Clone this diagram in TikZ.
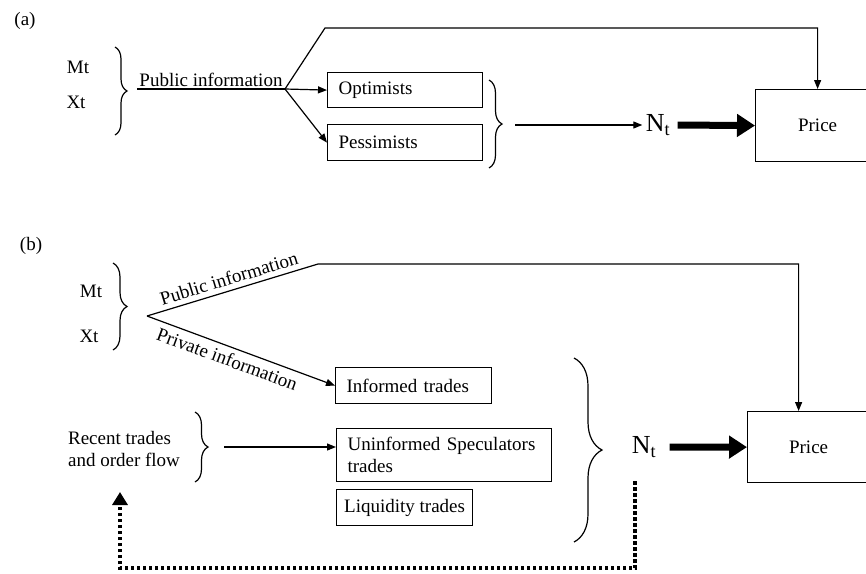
\documentclass[tikz,border=0pt]{standalone}
\usepackage{fontspec}
\setmainfont{Liberation Serif}
\usetikzlibrary{arrows.meta,decorations.pathreplacing}

\begin{document}
\begin{tikzpicture}[x=1pt,y=-1pt,>={Triangle[length=9pt,width=7pt]},
	every node/.style={font=\fontsize{19}{22}\selectfont},
	line/.style={line width=1.2pt},
	box/.style={draw,line width=1.2pt,anchor=north west,align=left,inner xsep=11pt,inner ysep=0pt},
	pricebox/.style={draw,line width=1.2pt,anchor=north west,minimum height=#1},
	curly/.style={line width=1.2pt,decorate,decoration={brace,amplitude=#1}},
	curly/.default=12pt,
	bigtext/.style={font=\fontsize{26}{30}\selectfont},
	fat/.style={line width=7pt,-{Triangle[length=18pt,width=22pt]}},
	feedback/.style={line width=3.5pt,dash pattern=on 3.5pt off 2.5pt,-{Triangle[length=13pt,width=15pt]}}]
	\useasboundingbox (0,0) rectangle (866,573);

	% Panel (a): nodes
	\node (lblA) at (25,21) {(a)};
	\node (mtA) at (78,67) {Mt};
	\node (xtA) at (76,102) {Xt};
	\node[box,text width=133pt,minimum height=35pt] (opt) at (327,72) {Optimists};
	\node[box,text width=133pt,minimum height=36pt] (pes) at (327,124) {Pessimists};
	\node[bigtext] (ntA) at (658,125) {N\textsubscript{t}};
	\node[pricebox=72pt,minimum width=124pt] (priceA) at (755,89) {Price};

	% Panel (a): points
	\coordinate (piA) at (137,89);
	\coordinate (brA) at (285,89);
	\coordinate (topA) at (325,28);
	\coordinate (sumA) at (515,125);

	% Panel (a): braces
	\draw[curly] (115,47) -- (115,135);
	\draw[curly=13pt] (489,80) -- (489,168);

	% Panel (a): lines
	\draw[line] (piA) -- node[above,inner sep=2pt] {Public information} (brA);
	\draw[->,line] (brA) -- (topA) -| (priceA.north);
	\draw[->,line] (brA) -- (opt.west);
	\draw[->,line] (brA) -- (pes.west);
	\draw[->,line] (sumA) -- (ntA);
	\draw[fat] ([xshift=4pt]ntA.east) -- (priceA.west);

	% Panel (b): nodes
	\node (lblB) at (31,246) {(b)};
	\node (mtB) at (91,291) {Mt};
	\node (xtB) at (89,336) {Xt};
	\node[align=left] (recent) at (124,449) {Recent trades\\and order flow};
	\node[box,text width=134pt,minimum height=36pt] (inf) at (335,367) {Informed trades};
	\node[box,text width=193pt,minimum height=53pt] (uni) at (336,428) {Uninformed Speculators\\trades};
	\node[box,inner xsep=6pt,minimum width=136pt,minimum height=36pt] (liq) at (336,489) {Liquidity trades};
	\node[bigtext] (ntB) at (644,447) {N\textsubscript{t}};
	\node[pricebox=71pt,minimum width=122pt] (priceB) at (747,411) {Price};

	% Panel (b): points
	\coordinate (brB) at (147,316);
	\coordinate (topB) at (318,264);
	\coordinate (rtB) at (224,447);
	\coordinate (fbStart) at (635,481);
	\coordinate (fbCorner) at (120,568);
	\coordinate (fbEnd) at (120,492);

	% Panel (b): braces
	\draw[curly=14pt] (113,263) -- (113,350);
	\draw[curly=13pt] (195,412) -- (195,482);
	\draw[curly=28pt] (574,358) -- (574,542);

	% Panel (b): lines
	\draw[->,line] (brB) -- node[sloped,above,inner sep=5pt] {Public information} (topB) -| ([xshift=-10pt]priceB.north);
	\draw[->,line] (brB) -- node[sloped,below,inner sep=5pt,pos=0.45] {Private information} (inf.west);
	\draw[->,line] (rtB) -- (rtB -| uni.west);
	\draw[fat] ([xshift=10pt]ntB.east) -- (priceB.west);

	% Feedback loop
	\draw[feedback] (fbStart) |- (fbCorner) -- (fbEnd);

\end{tikzpicture}
\end{document}
